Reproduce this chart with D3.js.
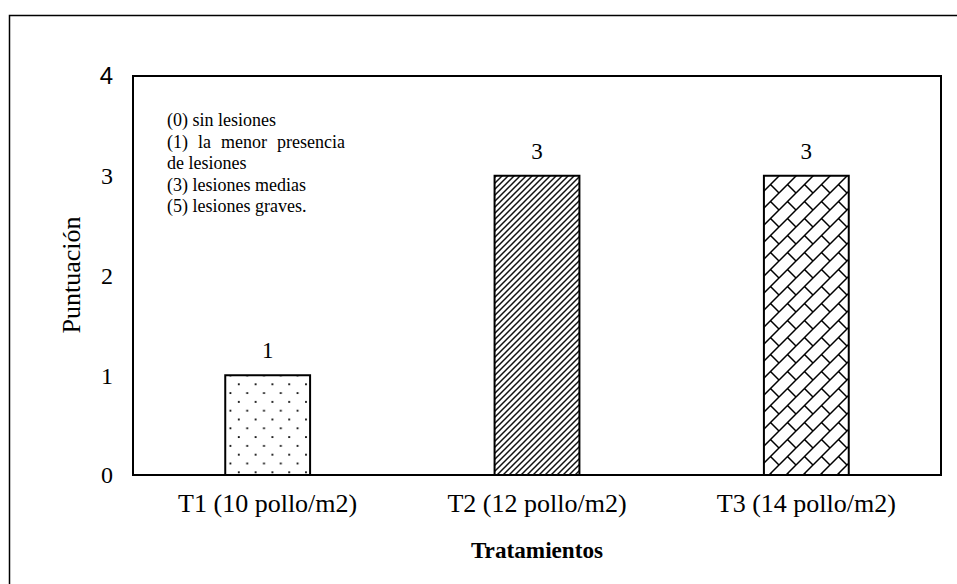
<!DOCTYPE html>
<html>
<head>
<meta charset="utf-8">
<script src="https://cdn.jsdelivr.net/npm/d3@7"></script>
<style>
  html, body { margin: 0; padding: 0; background: #fff; }
  svg { display: block; }
  svg text { font-family: "Liberation Serif", "Times New Roman", serif; fill: #000; }
</style>
</head>
<body>
<svg id="chart" width="957" height="584"></svg>
<script>
// Lesion scores by stocking density
const categories = ["T1 (10 pollo/m2)", "T2 (12 pollo/m2)", "T3 (14 pollo/m2)"];
const scores = [1, 3, 3];
const patterns = ["dots", "diag", "brick"];
const yTicks = [0, 1, 2, 3, 4];
const noteLines = [
  "(0) sin lesiones",
  "(1) la menor presencia",
  "de lesiones",
  "(3) lesiones medias",
  "(5) lesiones graves."
];
const yTitle = "Puntuación";
const xTitle = "Tratamientos";

const SERIF = "'Liberation Serif', 'Times New Roman', serif";
const SANS = "'Liberation Sans', Arial, sans-serif";

const svg = d3.select("#chart");
const plot = { left: 133, top: 76, right: 941, bottom: 475 };

// Fill patterns
const defs = svg.append("defs");

const pDots = defs.append("pattern").attr("id", "dots")
  .attr("patternUnits", "userSpaceOnUse").attr("width", 16.8).attr("height", 17.6)
  .attr("x", 226).attr("y", 0);
pDots.append("rect").attr("x", 3.5).attr("y", 5).attr("width", 1.8).attr("height", 1.8).attr("fill", "#000");
pDots.append("rect").attr("x", 11.9).attr("y", 13.8).attr("width", 1.8).attr("height", 1.8).attr("fill", "#000");

const pDiag = defs.append("pattern").attr("id", "diag")
  .attr("patternUnits", "userSpaceOnUse").attr("width", 6).attr("height", 6);
pDiag.append("path").attr("d", "M-1.5,1.5 L1.5,-1.5 M0,6 L6,0 M4.5,7.5 L7.5,4.5")
  .attr("stroke", "#111").attr("stroke-width", 1.5);

const pBrick = defs.append("pattern").attr("id", "brick")
  .attr("patternUnits", "userSpaceOnUse").attr("width", 17).attr("height", 17)
  .attr("x", 762).attr("y", 176);
pBrick.append("path").attr("d", "M0,17 L17,0 M8.5,8.5 L17,17 M-1,-1 L0.5,0.5")
  .attr("stroke", "#000").attr("stroke-width", 1.5).attr("fill", "none");

// Outer frame
svg.append("rect").attr("x", 9.5).attr("y", 15.5).attr("width", 1000).attr("height", 1000)
  .attr("fill", "none").attr("stroke", "#000").attr("stroke-width", 1.5);

const x = d3.scaleBand().domain(categories)
  .range([plot.left, plot.right]).paddingInner(0.685).paddingOuter(0.3425);
const y = d3.scaleLinear().domain([0, 4]).range([plot.bottom, plot.top]);

// Bars
svg.append("g").selectAll("rect").data(categories).join("rect")
  .attr("x", d => x(d))
  .attr("y", (d, i) => y(scores[i]))
  .attr("width", x.bandwidth())
  .attr("height", (d, i) => y(0) - y(scores[i]))
  .attr("fill", (d, i) => `url(#${patterns[i]})`)
  .attr("stroke", "#000").attr("stroke-width", 2);

// Plot area border
svg.append("rect").attr("x", plot.left).attr("y", plot.top)
  .attr("width", plot.right - plot.left).attr("height", plot.bottom - plot.top)
  .attr("fill", "none").attr("stroke", "#000").attr("stroke-width", 2);

// Y axis
const yAxis = svg.append("g").attr("transform", `translate(${plot.left},0)`)
  .call(d3.axisLeft(y).tickValues(yTicks).tickSize(0).tickPadding(20).tickFormat(d3.format("d")));
yAxis.select(".domain").remove();
yAxis.selectAll("text").attr("font-size", 24).attr("dy", "0.33em")
  .style("font-family", d => d === 4 ? SANS : SERIF);

// X axis
const xAxis = svg.append("g").attr("transform", `translate(0,${plot.bottom})`)
  .call(d3.axisBottom(x).tickSize(0).tickPadding(0));
xAxis.select(".domain").remove();
xAxis.selectAll("text").attr("font-size", 26).attr("dy", 0).attr("y", 37)
  .style("font-family", SERIF);
svg.selectAll(".tick text").style("fill", "#000");

// Value labels
svg.append("g").selectAll("text").data(categories).join("text")
  .attr("x", d => x(d) + x.bandwidth() / 2)
  .attr("y", (d, i) => y(scores[i]) - 17)
  .attr("text-anchor", "middle").attr("font-size", 23)
  .style("font-family", SERIF)
  .text((d, i) => scores[i]);

// Axis titles
svg.append("text").attr("transform", "translate(80,275) rotate(-90)")
  .attr("text-anchor", "middle").attr("font-size", 26)
  .style("font-family", SERIF).text(yTitle);
svg.append("text").attr("x", (plot.left + plot.right) / 2).attr("y", 558)
  .attr("text-anchor", "middle").attr("font-size", 23.2).attr("font-weight", "bold")
  .style("font-family", SERIF).text(xTitle);

// Scoring note
const noteY = [126, 147.5, 169, 190.5, 212];
const note = svg.append("g");
noteLines.forEach((t, i) => {
  const tx = note.append("text").attr("x", 167).attr("y", noteY[i]).attr("font-size", 18)
    .style("font-family", SERIF).text(t);
  if (i === 1) {
    const natural = tx.node().getComputedTextLength();
    const gaps = t.split(" ").length - 1;
    tx.attr("word-spacing", Math.max(0, (345 - 167 - natural) / gaps));
  }
});
</script>
</body>
</html>
